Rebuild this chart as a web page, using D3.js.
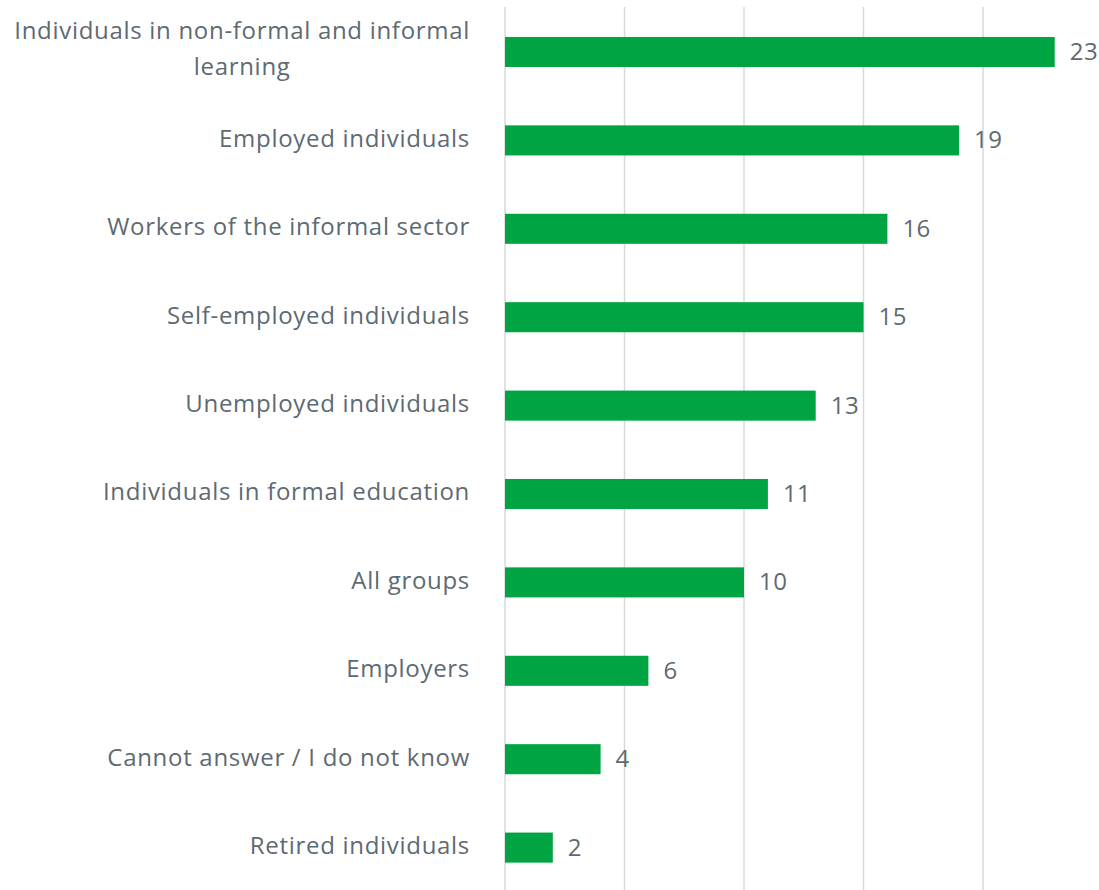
<!DOCTYPE html>
<html>
<head>
<meta charset="utf-8">
<script src="https://cdn.jsdelivr.net/npm/d3@7"></script>
<style>
  html, body { margin: 0; padding: 0; background: #fff; }
  svg { display: block; }
  text { font-family: "Open Sans", Lato, sans-serif; fill: #5e6a72; }
</style>
</head>
<body>
<svg id="chart" width="1099" height="890"></svg>
<script>
// Target groups and their shares
const categories = [
  "Individuals in non-formal and informal learning",
  "Employed individuals",
  "Workers of the informal sector",
  "Self-employed individuals",
  "Unemployed individuals",
  "Individuals in formal education",
  "All groups",
  "Employers",
  "Cannot answer / I do not know",
  "Retired individuals"
];
const values = [23, 19, 16, 15, 13, 11, 10, 6, 4, 2];
const gridTicks = [0, 5, 10, 15, 20];

const svg = d3.select("#chart");
const W = 1099, H = 890;
const x0 = 505, xUnit = 23.9;

const x = d3.scaleLinear().domain([0, 25]).range([x0, x0 + 25 * xUnit]);
const y = d3.scaleBand()
  .domain(categories)
  .range([7.8, 891.8])
  .paddingInner(0.66)
  .paddingOuter(0.33);

// vertical gridlines
svg.append("g")
  .selectAll("line")
  .data(gridTicks)
  .join("line")
  .attr("x1", d => x(d)).attr("x2", d => x(d))
  .attr("y1", 7).attr("y2", H)
  .attr("stroke", "#d9d9d9")
  .attr("stroke-width", 1.5);

// bars
svg.append("g")
  .selectAll("rect")
  .data(values)
  .join("rect")
  .attr("x", x(0))
  .attr("y", (d, i) => y(categories[i]))
  .attr("width", d => x(d) - x(0))
  .attr("height", y.bandwidth())
  .attr("fill", "#00a443");

// value labels
svg.append("g")
  .selectAll("text")
  .data(values)
  .join("text")
  .attr("x", d => x(d) + 15)
  .attr("y", (d, i) => y(categories[i]) + y.bandwidth() / 2)
  .attr("dy", "0.33em")
  .style("font-size", "24px")
  .style("letter-spacing", "0.5px")
  .text(d => d);

// category labels (wrapped where needed, centred lines, right-aligned block)
const labelRight = 470;
const wrapped = {
  "Individuals in non-formal and informal learning": ["Individuals in non-formal and informal", "learning"]
};
const lg = svg.append("g");
categories.forEach(c => {
  const lines = wrapped[c] || [c];
  const cy = y(c) + y.bandwidth() / 2 - (lines.length > 1 ? 3 : 1.5);
  const lineH = 36;
  const t = lg.append("text")
    .style("font-size", "24px")
    .style("letter-spacing", "0.7px");
  lines.forEach(ln => t.append("tspan").text(ln));
  const widths = [];
  t.selectAll("tspan").each(function () { widths.push(this.getComputedTextLength()); });
  const maxW = d3.max(widths);
  const cx = labelRight - maxW / 2;
  t.attr("text-anchor", "middle");
  t.selectAll("tspan")
    .attr("x", cx)
    .attr("y", (d, k) => cy + (k - (lines.length - 1) / 2) * lineH)
    .attr("dy", "0.33em");
});
</script>
</body>
</html>
